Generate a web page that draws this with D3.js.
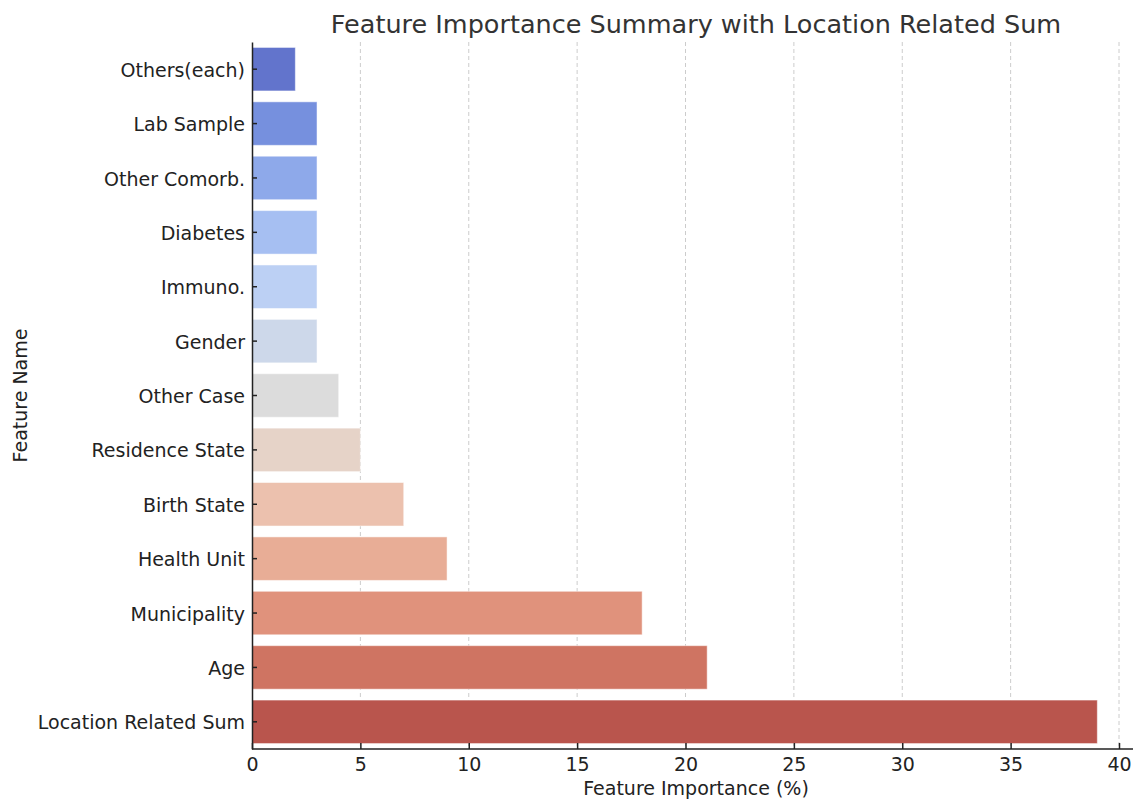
<!DOCTYPE html>
<html>
<head>
<meta charset="utf-8">
<style>
  body { margin: 0; background: #fff; }
  svg, svg text { font-family: "DejaVu Sans", sans-serif; }
</style>
</head>
<body>
<svg width="1135" height="799"></svg>
<script src="https://cdn.jsdelivr.net/npm/d3@7"></script>
<script>

var features = ["Others(each)", "Lab Sample", "Other Comorb.", "Diabetes", "Immuno.", "Gender",
    "Other Case", "Residence State", "Birth State", "Health Unit", "Municipality", "Age",
    "Location Related Sum"];
var importance = [2, 3, 3, 3, 3, 3, 4, 5, 7, 9, 18, 21, 39];
var barColors = ["#6274cc", "#7690de", "#8ea9ea", "#a6bff2", "#bcd0f4", "#cdd8ea", "#dcdcdc",
    "#e6d3c8", "#ecc1ae", "#e8ad96", "#e0927c", "#cf7462", "#b9554d"];
var xTicks = [0, 5, 10, 15, 20, 25, 30, 35, 40];

var svg = d3.select("svg"),
    margin = {top: 42, right: 2, bottom: 50, left: 252},
    width = +svg.attr("width") - margin.left - margin.right,
    height = +svg.attr("height") - margin.top - margin.bottom,
    g = svg.append("g").attr("transform", "translate(" + margin.left + "," + margin.top + ")");

var data = features.map(function(f, i) { return {name: f, value: importance[i], color: barColors[i]}; });

var x = d3.scaleLinear().domain([0, 40]).range([0, 867]);
var y = d3.scaleBand().domain(features).range([0, height]).paddingInner(0.2).paddingOuter(0.1);

// grid
g.append("g")
    .selectAll("line")
    .data(xTicks.slice(1))
    .enter().append("line")
    .attr("x1", function(d) { return x(d); })
    .attr("x2", function(d) { return x(d); })
    .attr("y1", 0)
    .attr("y2", height)
    .attr("stroke", "#cccccc")
    .attr("stroke-width", 1)
    .attr("stroke-dasharray", "4,3");

// bars
g.append("g")
    .selectAll("rect")
    .data(data)
    .enter().append("rect")
    .attr("x", x(0))
    .attr("y", function(d) { return y(d.name); })
    .attr("width", function(d) { return x(d.value) - x(0); })
    .attr("height", y.bandwidth())
    .attr("fill", function(d) { return d.color; })
    .attr("stroke", "#ffffff")
    .attr("stroke-opacity", 0.5)
    .attr("stroke-width", 1);

// x axis
var xAxis = g.append("g")
    .attr("transform", "translate(0," + height + ")")
    .call(d3.axisBottom(x).tickValues(xTicks).tickSizeInner(-6).tickSizeOuter(0));
xAxis.attr("font-family", null);
xAxis.selectAll("text").attr("font-size", 19).attr("fill", "#222").attr("dy", "0.71em").attr("y", 9);
xAxis.selectAll(".tick line").attr("stroke", "#222").attr("stroke-width", 1.5);
xAxis.select(".domain").attr("stroke", "#222").attr("stroke-width", 1.5)
    .attr("d", "M0,0H" + width);

// y axis
var yAxis = g.append("g")
    .call(d3.axisLeft(y).tickSizeInner(-5).tickSizeOuter(0));
yAxis.attr("font-family", null);
yAxis.selectAll("text").attr("font-size", 19).attr("fill", "#222").attr("x", -7).attr("dy", "0.4em");
yAxis.selectAll(".tick line").attr("stroke", "#222").attr("stroke-width", 1.5);
yAxis.select(".domain").attr("stroke", "#222").attr("stroke-width", 1.5);

// labels
svg.append("text")
    .attr("x", 696)
    .attr("y", 795)
    .attr("text-anchor", "middle")
    .attr("font-size", 19)
    .attr("fill", "#222")
    .text("Feature Importance (%)");

svg.append("text")
    .attr("transform", "translate(27," + (margin.top + height / 2) + ") rotate(-90)")
    .attr("text-anchor", "middle")
    .attr("font-size", 19)
    .attr("fill", "#222")
    .text("Feature Name");

svg.append("text")
    .attr("x", 696)
    .attr("y", 33)
    .attr("text-anchor", "middle")
    .attr("font-size", 25.5)
    .attr("fill", "#333")
    .text("Feature Importance Summary with Location Related Sum");

</script>
</body>
</html>
